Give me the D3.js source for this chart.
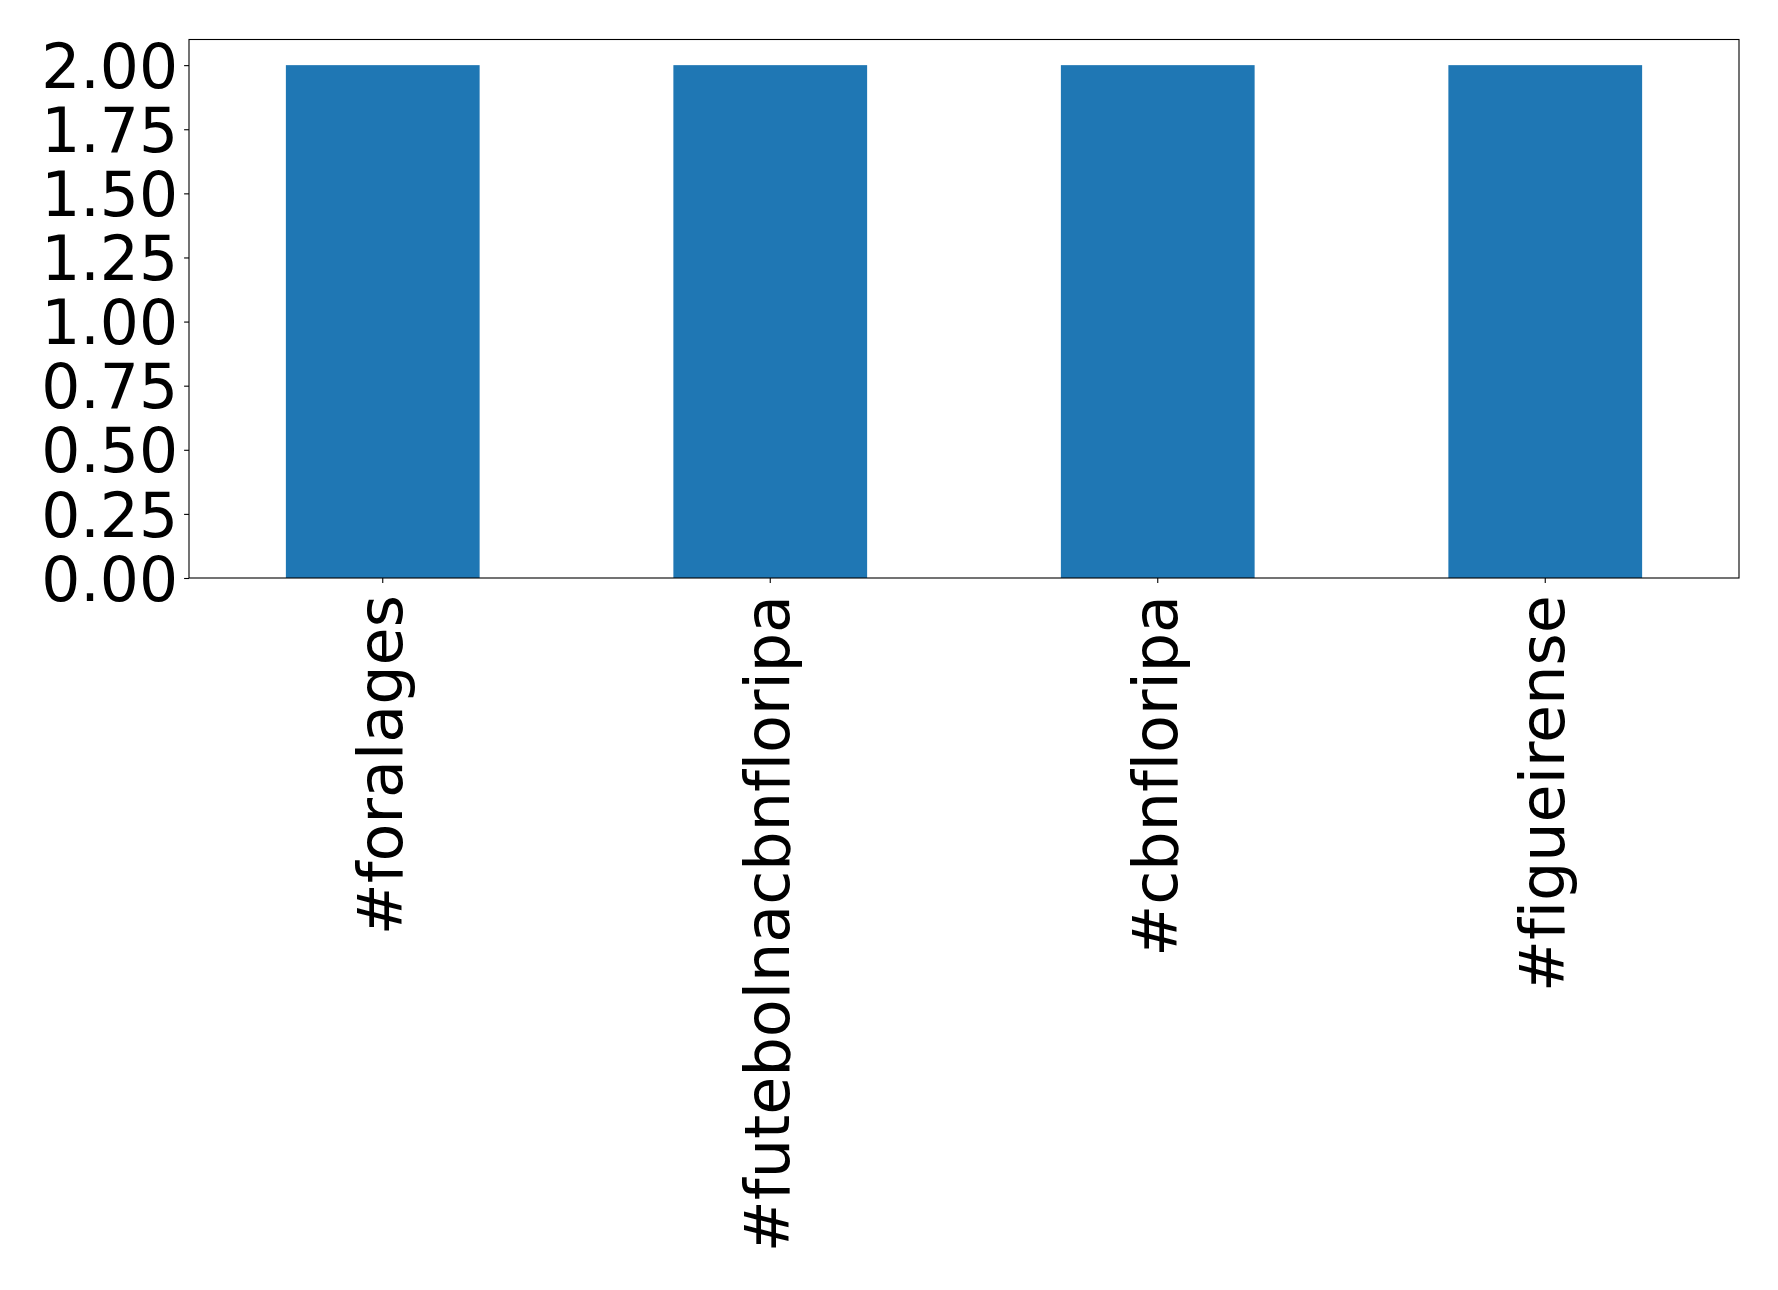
<!DOCTYPE html>
<html><head><meta charset="utf-8">
<script src="https://cdn.jsdelivr.net/npm/d3@7"></script>
<style>body{margin:0;background:#fff} text{font-variant-ligatures:none;font-feature-settings:"liga" 0,"clig" 0;}</style>
</head><body>
<svg id="c" width="1778" height="1290"></svg>
<script>
const categories = ["#foralages", "#futebolnacbnfloripa", "#cbnfloripa", "#figueirense"];
const values = [2, 2, 2, 2];
const yTicks = [0, 0.25, 0.5, 0.75, 1.0, 1.25, 1.5, 1.75, 2.0];

const L = 189, R = 1739, T = 39.5, B = 578;
const svg = d3.select("#c");
const font = "DejaVu Sans";
const fs = 61.5;

const x = d3.scaleBand().domain(categories).range([L, R]).paddingInner(0.5).paddingOuter(0.25);
const y = d3.scaleLinear().domain([0, 2.1]).range([B, T]);

svg.selectAll("rect.bar").data(values).join("rect")
  .attr("class", "bar")
  .attr("x", (d, i) => x(categories[i]))
  .attr("width", x.bandwidth())
  .attr("y", d => y(d))
  .attr("height", d => B - y(d))
  .attr("fill", "#1f77b4");

const yAxis = svg.append("g").attr("transform", `translate(${L},0)`)
  .call(d3.axisLeft(y).tickValues(yTicks).tickFormat(d3.format(".2f")).tickSize(4.9).tickPadding(6));
yAxis.select(".domain").remove();
yAxis.selectAll("text").attr("font-family", font).attr("font-size", fs).attr("fill", "#000").attr("dy", "0.36em");
yAxis.selectAll("line").attr("stroke", "#000").attr("stroke-width", 1.1);

const xAxis = svg.append("g").attr("transform", `translate(0,${B})`)
  .call(d3.axisBottom(x).tickSize(4.9).tickPadding(0));
xAxis.select(".domain").remove();
xAxis.selectAll("line").attr("stroke", "#000").attr("stroke-width", 1.1);
xAxis.selectAll("text")
  .attr("font-family", font).attr("font-size", 62).attr("fill", "#000")
  .attr("text-anchor", "end")
  .attr("transform", "translate(19,17) rotate(-90)")
  .attr("x", 0).attr("y", 0).attr("dy", 0);

svg.append("rect").attr("x", L).attr("y", T).attr("width", R - L).attr("height", B - T)
  .attr("fill", "none").attr("stroke", "#000").attr("stroke-width", 1.1);
</script>
</body></html>
